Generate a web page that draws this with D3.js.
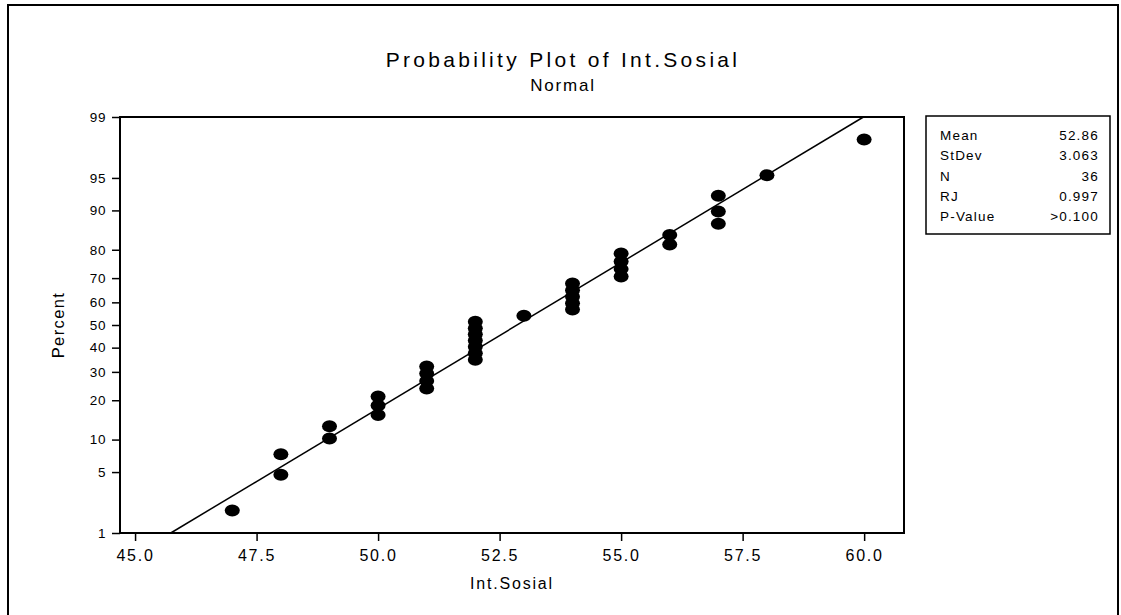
<!DOCTYPE html>
<html>
<head>
<meta charset="utf-8">
<script src="https://cdn.jsdelivr.net/npm/d3@7"></script>
<style>
  html, body { margin: 0; padding: 0; background: #fff; }
  svg { display: block; }
  text { font-family: "Liberation Sans", Arial, sans-serif; fill: #000; }
</style>
</head>
<body>
<svg id="chart" width="1121" height="615"></svg>
<script>
// ---- data ----
const title = "Probability Plot of Int.Sosial";
const subtitle = "Normal";
const xLabel = "Int.Sosial";
const yLabel = "Percent";

const xValues = [47, 48, 48, 49, 49, 50, 50, 50, 51, 51, 51, 51,
                 52, 52, 52, 52, 52, 52, 52, 53, 54, 54, 54, 54, 54,
                 55, 55, 55, 55, 56, 56, 57, 57, 57, 58, 60];
const percentValues = [1.9, 4.7, 7.4, 10.2, 12.9, 15.7, 18.4, 21.2, 23.9, 26.6, 29.4, 32.1,
                       34.9, 37.6, 40.4, 43.1, 45.9, 48.6, 51.4, 54.1, 56.9, 59.6, 62.4, 65.1, 67.9,
                       70.6, 73.4, 76.1, 78.8, 81.6, 84.3, 87.1, 89.8, 92.6, 95.3, 98.1];

const xTicks = [45.0, 47.5, 50.0, 52.5, 55.0, 57.5, 60.0];
const yTicks = [1, 5, 10, 20, 30, 40, 50, 60, 70, 80, 90, 95, 99];

const statLabels = ["Mean", "StDev", "N", "RJ", "P-Value"];
const statValues = ["52.86", "3.063", "36", "0.997", ">0.100"];
const fitMean = 52.86;
const fitSd = 3.063;

// ---- inverse normal CDF (Acklam) ----
function probit(p) {
  const a = [-3.969683028665376e+01, 2.209460984245205e+02, -2.759285104469687e+02,
             1.383577518672690e+02, -3.066479806614716e+01, 2.506628277459239e+00];
  const b = [-5.447609879822406e+01, 1.615858368580409e+02, -1.556989798598866e+02,
             6.680131188771972e+01, -1.328068155288572e+01];
  const c = [-7.784894002430293e-03, -3.223964580411365e-01, -2.400758277161838e+00,
             -2.549732539343734e+00, 4.374664141464968e+00, 2.938163982698783e+00];
  const d = [7.784695709041462e-03, 3.224671290700398e-01, 2.445134137142996e+00,
             3.754408661907416e+00];
  const pl = 0.02425, ph = 1 - pl;
  let q, r;
  if (p < pl) {
    q = Math.sqrt(-2 * Math.log(p));
    return (((((c[0]*q+c[1])*q+c[2])*q+c[3])*q+c[4])*q+c[5]) / ((((d[0]*q+d[1])*q+d[2])*q+d[3])*q+1);
  } else if (p <= ph) {
    q = p - 0.5; r = q*q;
    return (((((a[0]*r+a[1])*r+a[2])*r+a[3])*r+a[4])*r+a[5])*q / (((((b[0]*r+b[1])*r+b[2])*r+b[3])*r+b[4])*r+1);
  } else {
    q = Math.sqrt(-2 * Math.log(1 - p));
    return -(((((c[0]*q+c[1])*q+c[2])*q+c[3])*q+c[4])*q+c[5]) / ((((d[0]*q+d[1])*q+d[2])*q+d[3])*q+1);
  }
}

// ---- layout ----
const svg = d3.select("#chart");
const plot = { left: 120, right: 904, top: 117, bottom: 533 };

// outer frame
svg.append("rect")
  .attr("x", 8).attr("y", 5).attr("width", 1110).attr("height", 620)
  .attr("fill", "none").attr("stroke", "#000").attr("stroke-width", 2);

const x = d3.scaleLinear().domain([44.69, 60.82]).range([plot.left, plot.right]);
const zLin = d3.scaleLinear().domain([probit(0.01), probit(0.99)]).range([plot.bottom, plot.top]);
const y = p => zLin(probit(p / 100));

// plot frame
svg.append("rect")
  .attr("x", plot.left).attr("y", plot.top)
  .attr("width", plot.right - plot.left).attr("height", plot.bottom - plot.top)
  .attr("fill", "none").attr("stroke", "#000").attr("stroke-width", 2);

// x axis
const xAxis = d3.axisBottom(x).tickValues(xTicks).tickFormat(d3.format(".1f")).tickSize(8).tickSizeOuter(0);
const gx = svg.append("g").attr("transform", `translate(0,${plot.bottom})`).call(xAxis);
gx.select(".domain").remove();
gx.selectAll(".tick line").attr("stroke", "#000").attr("stroke-width", 1.5);
gx.selectAll(".tick text")
  .attr("y", 17).attr("dy", "0.71em")
  .style("font-size", "16px").style("letter-spacing", "1.8px")
  .style("font-family", "'Liberation Sans', Arial, sans-serif");

// y axis
const yAxis = d3.axisLeft(zLin)
  .tickValues(yTicks.map(p => probit(p / 100)))
  .tickFormat((d, i) => String(yTicks[i]))
  .tickSize(8).tickSizeOuter(0);
const gy = svg.append("g").attr("transform", `translate(${plot.left},0)`).call(yAxis);
gy.select(".domain").remove();
gy.selectAll(".tick line").attr("stroke", "#000").attr("stroke-width", 1.5);
gy.selectAll(".tick text")
  .attr("x", -14)
  .style("font-size", "13.5px").style("letter-spacing", "0.6px")
  .style("font-family", "'Liberation Sans', Arial, sans-serif");

// fitted line
const linePcts = [1, 99];
const line = d3.line()
  .x(p => x(fitMean + fitSd * probit(p / 100)))
  .y(p => y(p));
svg.append("path")
  .datum(linePcts)
  .attr("d", line)
  .attr("fill", "none").attr("stroke", "#000").attr("stroke-width", 1.5);

// points
svg.append("g").selectAll("ellipse")
  .data(xValues.map((v, i) => ({ v, p: percentValues[i] })))
  .join("ellipse")
  .attr("cx", d => x(d.v))
  .attr("cy", d => y(d.p))
  .attr("rx", 7.5).attr("ry", 6)
  .attr("fill", "#000");

// titles
svg.append("text").attr("x", 563).attr("y", 67).attr("text-anchor", "middle")
  .style("font-size", "21px").style("letter-spacing", "3.3px").text(title);
svg.append("text").attr("x", 563).attr("y", 91).attr("text-anchor", "middle")
  .style("font-size", "17px").style("letter-spacing", "1.8px").text(subtitle);

// axis labels
svg.append("text").attr("x", (plot.left + plot.right) / 2).attr("y", 589).attr("text-anchor", "middle")
  .style("font-size", "16px").style("letter-spacing", "1.8px").text(xLabel);
svg.append("text")
  .attr("transform", `translate(64,${(plot.top + plot.bottom) / 2}) rotate(-90)`)
  .attr("text-anchor", "middle")
  .style("font-size", "16.5px").style("letter-spacing", "1.4px").text(yLabel);

// stats box
const box = { x: 926, y: 116, w: 184, h: 118 };
svg.append("rect").attr("x", box.x).attr("y", box.y).attr("width", box.w).attr("height", box.h)
  .attr("fill", "none").attr("stroke", "#000").attr("stroke-width", 1.5);
const rowY = d3.scaleLinear().domain([0, statLabels.length - 1]).range([box.y + 24, box.y + 105]);
svg.append("g").selectAll("text.lab").data(statLabels).join("text")
  .attr("class", "lab")
  .attr("x", box.x + 14).attr("y", (d, i) => rowY(i))
  .style("font-size", "13.5px").style("letter-spacing", "1.2px").text(d => d);
svg.append("g").selectAll("text.val").data(statValues).join("text")
  .attr("class", "val")
  .attr("x", box.x + box.w - 11).attr("y", (d, i) => rowY(i))
  .attr("text-anchor", "end")
  .style("font-size", "13.5px").style("letter-spacing", "1.2px").text(d => d);
</script>
</body>
</html>
